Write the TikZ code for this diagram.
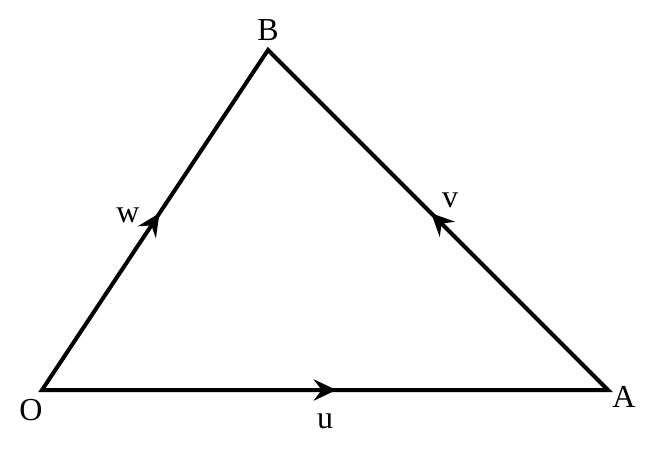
\documentclass[tikz,border=0pt]{standalone}
\usepackage{fontspec}
\setmainfont{Liberation Serif}
\usetikzlibrary{arrows.meta,decorations.markings}
\begin{document}
\begin{tikzpicture}[x=0.75pt,y=-0.75pt,
  edge/.style={line width=3pt,
    postaction={decorate},
    decoration={markings,mark=at position 0.52 with {\arrow{Stealth[length=17pt,width=16pt,inset=6pt]}}}},
  lbl/.style={font=\fontsize{24pt}{28pt}\selectfont,inner sep=0pt}]
\useasboundingbox (0,0) rectangle (655,453);
\coordinate (O) at (42,390);
\coordinate (A) at (608,390);
\coordinate (B) at (268,50);
\draw[line width=3pt,line join=miter] (O) -- (A) -- (B) -- cycle;
\path[edge] (O) -- (A);
\path[edge] (O) -- (B);
\path[edge] (A) -- (B);
\node[lbl] (lB) at (268,30) {B};
\node[lbl] (lO) at (31,410) {O};
\node[lbl] (lA) at (624,397) {A};
\node[lbl] (lu) at (325,421) {u};
\node[lbl] (lv) at (450,200) {v};
\node[lbl] (lw) at (128,215) {w};
\end{tikzpicture}
\end{document}
